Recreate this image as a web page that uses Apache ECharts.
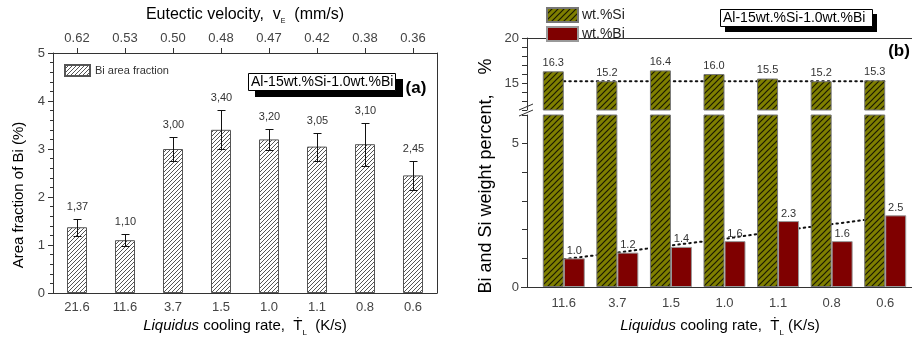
<!DOCTYPE html>
<html><head><meta charset="utf-8">
<script src="https://cdn.jsdelivr.net/npm/echarts/dist/echarts.min.js"></script>
<style>html,body{margin:0;padding:0;background:#fff}#c{width:912px;height:342px}</style>
</head><body><div id="c"></div>
<script>
// ---- data ----
const coolingA = ['21.6','11.6','3.7','1.5','1.0','1.1','0.8','0.6'];
const eutecticVel = ['0.62','0.53','0.50','0.48','0.47','0.42','0.38','0.36'];
const biArea = [1.37, 1.10, 3.00, 3.40, 3.20, 3.05, 3.10, 2.45];
const biAreaErr = [0.18, 0.12, 0.24, 0.41, 0.22, 0.29, 0.45, 0.30];
const coolingB = ['11.6','3.7','1.5','1.0','1.1','0.8','0.6'];
const wtSi = [16.3, 15.2, 16.4, 16.0, 15.5, 15.2, 15.3];
const wtBi = [1.0, 1.2, 1.4, 1.6, 2.3, 1.6, 2.5];
const siTrend = [15.2, 15.2, 15.2, 15.2, 15.2, 15.2, 15.2];
const biTrend = [0.97, 1.2, 1.45, 1.68, 1.95, 2.19, 2.43];

const FONT = '"Liberation Sans", Arial, sans-serif';

function hatch(bg, fg, size, lw){
  const c = document.createElement('canvas'); c.width = size; c.height = size;
  const g = c.getContext('2d');
  g.fillStyle = bg; g.fillRect(0,0,size,size);
  g.strokeStyle = fg; g.lineWidth = lw;
  g.beginPath();
  g.moveTo(-1,size+1); g.lineTo(size+1,-1);
  g.moveTo(-1,1); g.lineTo(1,-1);
  g.moveTo(size-1,size+1); g.lineTo(size+1,size-1);
  g.stroke();
  return {image:c, repeat:'repeat'};
}
const hatchA = hatch('#ffffff','#555555',4,1);
const hatchSi = hatch('#7f7f00','#1a1a00',6,1.2);

const axLine = {lineStyle:{color:'#333', width:1}};
const tickLbl = {color:'#444', fontSize:13, fontFamily:FONT};

const chart = echarts.init(document.getElementById('c'), null, {renderer:'canvas'});
chart.setOption({
  animation:false,
  backgroundColor:'#fff',
  grid:[
    {left:53, top:53, width:384, height:240, outerBoundsMode:'none'},
    {left:537, top:38, right:0, height:72, outerBoundsMode:'none'},
    {left:537, top:115, right:0, height:172, outerBoundsMode:'none'}
  ],
  legend:[
    {data:['Bi area fraction'], left:59, top:59, itemWidth:25, itemHeight:11, icon:'rect',
     textStyle:{fontSize:11, color:'#333', fontFamily:FONT}, itemGap:4},
    {data:['wt.%Si','wt.%Bi'], orient:'vertical', left:541, top:2, itemWidth:31, itemHeight:14, itemGap:3, icon:'rect',
     textStyle:{fontSize:14, color:'#222', fontFamily:FONT, padding:[0,0,0,-1]}}
  ],
  xAxis:[
    {type:'category', gridIndex:0, data:coolingA, position:'bottom',
     axisLine:axLine, axisTick:{show:false}, axisLabel:Object.assign({margin:8}, tickLbl)},
    {type:'category', gridIndex:0, data:eutecticVel, position:'top',
     axisLine:Object.assign({onZero:false}, axLine), axisTick:{show:true, alignWithLabel:true, length:5, lineStyle:{color:'#333'}},
     axisLabel:Object.assign({margin:8}, tickLbl)},
    {type:'category', gridIndex:1, data:coolingB, position:'top',
     axisLine:Object.assign({onZero:false}, axLine), axisTick:{show:false}, axisLabel:{show:false}},
    {type:'category', gridIndex:2, data:coolingB, position:'bottom',
     axisLine:axLine, axisTick:{show:false}, axisLabel:Object.assign({margin:10}, tickLbl)}
  ],
  yAxis:[
    {type:'value', gridIndex:0, min:0, max:5, interval:1, position:'left',
     axisLine:{show:true, lineStyle:{color:'#333'}}, axisTick:{show:true, length:5, lineStyle:{color:'#333'}},
     minorTick:{show:true, splitNumber:5, length:3, lineStyle:{color:'#333'}},
     splitLine:{show:false}, axisLabel:Object.assign({margin:8}, tickLbl)},
    {type:'value', gridIndex:0, min:0, max:5, interval:1, position:'right',
     axisLine:{show:true, lineStyle:{color:'#333'}}, axisTick:{show:false}, axisLabel:{show:false}, splitLine:{show:false}},
    {type:'value', gridIndex:1, min:12, max:20, interval:1, position:'left', offset:10,
     axisLine:{show:true, lineStyle:{color:'#333'}}, axisTick:{show:true, length:5, lineStyle:{color:'#333'}},
     splitLine:{show:false},
     axisLabel:Object.assign({margin:8, formatter:v => (v===15||v===20) ? String(v) : ''}, tickLbl)},
    {type:'value', gridIndex:2, min:0, max:6, interval:1, position:'left', offset:10,
     axisLine:{show:true, lineStyle:{color:'#333'}}, axisTick:{show:true, length:5, lineStyle:{color:'#333'}},
     splitLine:{show:false},
     axisLabel:Object.assign({margin:8, formatter:v => (v===0||v===5) ? String(v) : ''}, tickLbl)}
  ],
  series:[
    {name:'Bi area fraction', type:'bar', xAxisIndex:0, yAxisIndex:0, data:biArea, barWidth:20,
     itemStyle:{color:hatchA, borderColor:'#555', borderWidth:1}},
    {name:'err', type:'custom', xAxisIndex:0, yAxisIndex:0, z:5,
     data: biArea.map((v,i) => [i, v - biAreaErr[i], v + biAreaErr[i], v]),
     encode:{x:0, y:[1,2]},
     renderItem:function(params, api){
       const i = api.value(0);
       const lo = api.coord([i, api.value(1)]);
       const hi = api.coord([i, api.value(2)]);
       const x = Math.round(hi[0]) + 0.5, w = 4;
       const yh = Math.round(hi[1]) + 0.5, yl = Math.round(lo[1]) + 0.5;
       return {type:'group', children:[
         {type:'line', shape:{x1:x,y1:yh,x2:x,y2:yl}, style:{stroke:'#111',lineWidth:1}},
         {type:'line', shape:{x1:x-w,y1:yh,x2:x+w,y2:yh}, style:{stroke:'#111',lineWidth:1}},
         {type:'line', shape:{x1:x-w,y1:yl,x2:x+w,y2:yl}, style:{stroke:'#111',lineWidth:1}},
         {type:'text', x:x, y:yh-13, style:{text:api.value(3).toFixed(2).replace('.',','),
           align:'center', verticalAlign:'middle', fontSize:11, fontFamily:FONT, fill:'#333'}}
       ]};
     }},
    // right panel, upper segment
    {name:'wt.%Si', type:'bar', xAxisIndex:2, yAxisIndex:2, data:wtSi, barWidth:21, barGap:'0%', z:2,
     itemStyle:{color:hatchSi, borderColor:'#777', borderWidth:1},
     label:{show:true, position:'top', distance:3, fontSize:11, color:'#333', fontFamily:FONT, formatter:p => p.value.toFixed(1)}},
    {name:'wt.%Bi', type:'bar', xAxisIndex:2, yAxisIndex:2, data:wtBi, barWidth:21, barGap:'0%', z:2,
     itemStyle:{color:'#7f0000', borderColor:'#999', borderWidth:1}, label:{show:false}},
    {name:'Si trend', type:'line', xAxisIndex:2, yAxisIndex:2, data:siTrend, z:1, symbol:'none',
     lineStyle:{color:'#111', width:2, type:[1.5,4], cap:'round'}, silent:true},
    // right panel, lower segment
    {name:'wt.%Si', type:'bar', xAxisIndex:3, yAxisIndex:3, data:wtSi, barWidth:21, barGap:'0%', z:2,
     itemStyle:{color:hatchSi, borderColor:'#777', borderWidth:1}, label:{show:false}},
    {name:'wt.%Bi', type:'bar', xAxisIndex:3, yAxisIndex:3, data:wtBi, barWidth:21, barGap:'0%', z:2,
     itemStyle:{color:'#7f0000', borderColor:'#999', borderWidth:1},
     label:{show:true, position:'top', distance:2, fontSize:11, color:'#333', fontFamily:FONT, formatter:p => p.value.toFixed(1)}},
    {name:'Bi trend', type:'line', xAxisIndex:3, yAxisIndex:3, data:biTrend, z:1, symbol:'none',
     lineStyle:{color:'#111', width:2, type:[1.5,4], cap:'round'}, silent:true}
  ],
  graphic:[
    // left annotation
    {type:'rect', shape:{x:255, y:79, width:148, height:18}, style:{fill:'#000'}},
    {type:'rect', shape:{x:248.5, y:73.5, width:147, height:17}, style:{fill:'#fff', stroke:'#000', lineWidth:1}},
    {type:'text', x:251, y:82.5, style:{text:'Al-15wt.%Si-1.0wt.%Bi', fontSize:14, fontFamily:FONT, fill:'#000', verticalAlign:'middle'}},
    {type:'text', x:416, y:88, style:{text:'(a)', fontSize:17, fontWeight:'bold', fontFamily:FONT, fill:'#000', align:'center', verticalAlign:'middle'}},
    // right annotation
    {type:'rect', shape:{x:725, y:14, width:152, height:18}, style:{fill:'#000'}},
    {type:'rect', shape:{x:720.5, y:9.5, width:152, height:17}, style:{fill:'#fff', stroke:'#000', lineWidth:1}},
    {type:'text', x:723, y:18.5, style:{text:'Al-15wt.%Si-1.0wt.%Bi', fontSize:14, fontFamily:FONT, fill:'#000', verticalAlign:'middle'}},
    {type:'text', x:899, y:51, style:{text:'(b)', fontSize:17, fontWeight:'bold', fontFamily:FONT, fill:'#000', align:'center', verticalAlign:'middle'}},
    // axis titles
    {type:'text', x:245, y:15, style:{text:'Eutectic velocity,  v{s|E}  (mm/s)', fontSize:16, fontFamily:FONT, fill:'#000',
      align:'center', verticalAlign:'middle', rich:{s:{fontSize:7, fontFamily:FONT, verticalAlign:'bottom', padding:[12,0,0,0]}}}},
    {type:'text', x:245, y:326, style:{text:'{i|Liquidus} cooling rate,  Ṫ{s|L}  (K/s)', fontSize:15, fontFamily:FONT, fill:'#000',
      align:'center', verticalAlign:'middle', rich:{i:{fontSize:15, fontStyle:'italic', fontFamily:FONT}, s:{fontSize:8, fontFamily:FONT, verticalAlign:'bottom', padding:[14,0,0,0]}}}},
    {type:'text', x:720, y:326, style:{text:'{i|Liquidus} cooling rate,  Ṫ{s|L} (K/s)', fontSize:15, fontFamily:FONT, fill:'#000',
      align:'center', verticalAlign:'middle', rich:{i:{fontSize:15, fontStyle:'italic', fontFamily:FONT}, s:{fontSize:8, fontFamily:FONT, verticalAlign:'bottom', padding:[14,0,0,0]}}}},
    {type:'text', x:19, y:195, rotation:Math.PI/2, style:{text:'Area fraction of Bi (%)', fontSize:15, fontFamily:FONT, fill:'#000', align:'center', verticalAlign:'middle'}},
    {type:'text', x:486, y:176, rotation:Math.PI/2, style:{text:'Bi and Si weight percent,    %', fontSize:18, fontFamily:FONT, fill:'#000', align:'center', verticalAlign:'middle'}},
    // axis break marks and axis-line stubs
    {type:'line', shape:{x1:519, y1:110, x2:533, y2:104}, style:{stroke:'#333', lineWidth:1}},
    {type:'line', shape:{x1:519, y1:116, x2:533, y2:110}, style:{stroke:'#333', lineWidth:1}},
    {type:'line', shape:{x1:521, y1:287.5, x2:537, y2:287.5}, style:{stroke:'#333', lineWidth:1}},
    {type:'line', shape:{x1:527, y1:38.5, x2:537, y2:38.5}, style:{stroke:'#333', lineWidth:1}}
  ]
});
</script>
</body></html>
